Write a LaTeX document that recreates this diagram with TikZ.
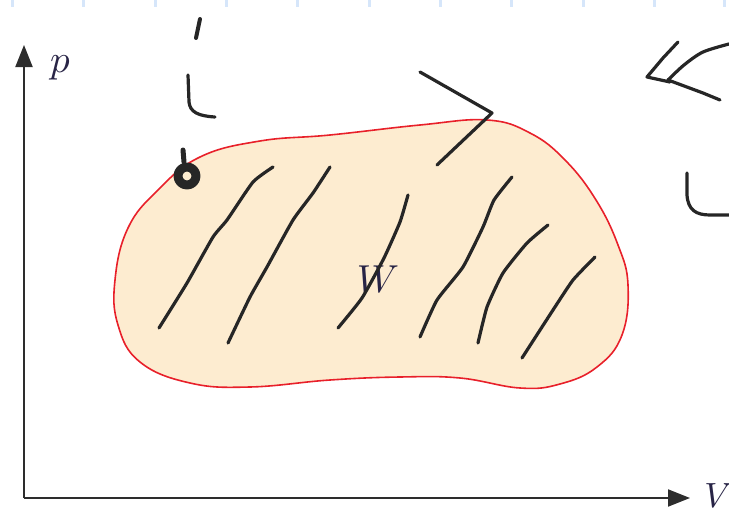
\documentclass[tikz,border=0pt]{standalone}
\usepackage{graphicx}
\usetikzlibrary{arrows.meta}
\definecolor{blobfill}{RGB}{253,236,208}
\definecolor{blobline}{RGB}{232,32,42}
\definecolor{ink}{RGB}{38,38,38}
\definecolor{axisgray}{RGB}{45,45,45}
\definecolor{tickblue}{RGB}{214,230,250}
\definecolor{labelcol}{RGB}{40,36,70}
\newcommand{\biglabel}[1]{\scalebox{3.9}{$#1$}}
\tikzset{
  axisline/.style={draw=axisgray, line width=2pt, -{Triangle[length=22pt,width=17pt]}},
  pen/.style={draw=ink, line width=3.2pt, line cap=round, line join=round},
  axislabel/.style={text=labelcol, inner sep=0pt},
  blob/.style={draw=blobline, fill=blobfill, line width=1.6pt},
  topdash/.style={draw=tickblue, line width=3pt}
}
\begin{document}
\begin{tikzpicture}[x=1pt,y=-1pt]
\useasboundingbox (0,0) rectangle (729,514);
% top dashed ticks
\foreach \xx in {12,83,155,226,297,369,440,511,583,654,724}{
  \draw[topdash] (\xx,0) -- (\xx,7);
}
% blob
\draw[blob] plot[smooth cycle, tension=0.7] coordinates {
 (115,280) (128,228) (158,190) (200,157) (260,141) (330,135) (420,125) (487,120)
 (530,133) (565,160) (596,200) (618,245) (628,285) (622,335) (597,367) (560,384)
 (520,388) (460,378) (400,377) (330,380) (250,387) (190,383) (140,362) (118,325)};
% axes
\coordinate (O) at (24,498);
\coordinate (ptip) at (24,45);
\coordinate (Vtip) at (690,498);
\draw[axisline] (O) -- (ptip);
\draw[axisline] (O) -- (Vtip);
\node[axislabel] (plabel) at (60,68) {\biglabel{p}};
\node[axislabel, anchor=east] (Vlabel) at (727,496) {\scalebox{3.5}{$V\!$}};
\node[axislabel] (Wlabel) at (378,279) {\biglabel{W}};
% hatching strokes
\draw[pen] plot[smooth, tension=0.3] coordinates {(273,167) (253,182) (227,220) (213,237) (187,283) (159,328)};
\draw[pen] plot[smooth, tension=0.3] coordinates {(330,167) (313,193) (293,220) (267,267) (250,297) (228,343)};
\draw[pen] plot[smooth, tension=0.3] coordinates {(408,195) (400,222) (384,258) (362,298) (338,328)};
\draw[pen] plot[smooth, tension=0.3] coordinates {(512,177) (494,200) (483,227) (463,267) (437,300) (420,337)};
\draw[pen] plot[smooth, tension=0.3] coordinates {(548,225) (527,243) (503,273) (487,307) (478,343)};
\draw[pen] plot[smooth, tension=0.3] coordinates {(595,257) (573,280) (553,310) (522,358)};
% ">" mark
\draw[pen] (420,72) -- (492,113) -- (437,165);
% "i" mark
\draw[pen, line width=4pt] (200,19) -- (196,38);
\draw[pen] (188,75) -- (189,102) .. controls (190,112) and (198,116) .. (215,117);
% "<<" mark
\draw[pen] (678,42) -- (663,58) -- (647,77) -- (670,82);
\draw[pen] plot[smooth, tension=0.5] coordinates {(729,44) (703,52) (684,65) (668,80)};
\draw[pen] (668,80) -- (703,93) -- (720,100);
% "U" mark
\draw[pen] (687,173) -- (687,195) .. controls (688,210) and (696,215) .. (710,215) -- (729,215);
% small circle
\draw[pen, line width=9pt] (187,176) circle[radius=9];
\draw[pen, line width=5pt] (183,150) -- (184,162);
\end{tikzpicture}
\end{document}
